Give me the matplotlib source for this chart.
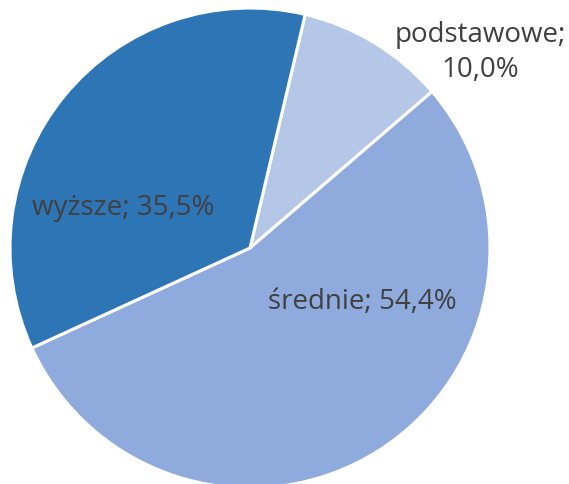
import matplotlib.pyplot as plt

# education level shares (percent)
labels = ['podstawowe', 'średnie', 'wyższe']
shares = [10.0, 54.4, 35.5]
colors = ['#B4C7E7', '#8FAADC', '#2E75B6']
# label anchor points (data coords, pie radius = 1)
label_xy = [(0.96, 0.815), (0.47, -0.225), (-0.53, 0.165)]

plt.rcParams['font.family'] = ['Open Sans', 'DejaVu Sans']

fig = plt.figure(figsize=(5.69, 4.84), dpi=100, facecolor='white')
ax = fig.add_axes([0, 0, 1, 1])

ax.pie(shares, colors=colors, startangle=76.7, counterclock=False,
       wedgeprops=dict(edgecolor='white', linewidth=2.2))

for lab, val, (x, y) in zip(labels, shares, label_xy):
    val_txt = f'{val:.1f}%'.replace('.', ',')
    if lab == 'podstawowe':
        txt = f'{lab};\n{val_txt}'
    else:
        txt = f'{lab}; {val_txt}'
    ax.text(x, y, txt, ha='center', va='center', fontsize=20,
            color='#404040', linespacing=1.3)

# pie centre at (250, 248) px, radius 240 px
ax.set_xlim(-250 / 240, (569 - 250) / 240)
ax.set_ylim(-(484 - 248) / 240, 248 / 240)
ax.set_aspect('equal')
ax.axis('off')

fig.savefig('out.png', dpi=100, facecolor='white')
